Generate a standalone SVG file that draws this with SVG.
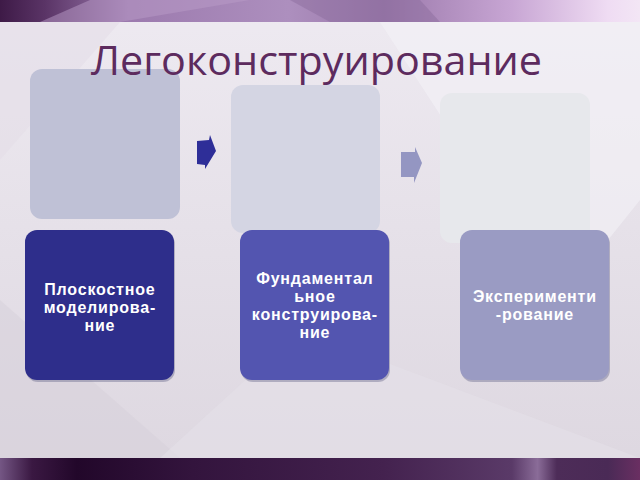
<svg xmlns="http://www.w3.org/2000/svg" width="640" height="480" viewBox="0 0 640 480">
  <defs>
    <linearGradient id="topBand" x1="0" y1="0" x2="1" y2="0">
      <stop offset="0" stop-color="#3e1a47"/>
      <stop offset="0.07" stop-color="#5a3466"/>
      <stop offset="0.2" stop-color="#9c7aae"/>
      <stop offset="0.45" stop-color="#ad8fbe"/>
      <stop offset="0.6" stop-color="#9a78aa"/>
      <stop offset="0.8" stop-color="#c8a6d4"/>
      <stop offset="0.95" stop-color="#efdcf3"/>
      <stop offset="1" stop-color="#f3e6f5"/>
    </linearGradient>
    <linearGradient id="botBand" x1="0" y1="0" x2="1" y2="0">
      <stop offset="0" stop-color="#745684"/>
      <stop offset="0.05" stop-color="#3a1842"/>
      <stop offset="0.12" stop-color="#22072a"/>
      <stop offset="0.3" stop-color="#33143d"/>
      <stop offset="0.6" stop-color="#44224f"/>
      <stop offset="0.8" stop-color="#5a3a68"/>
      <stop offset="0.84" stop-color="#8a6c98"/>
      <stop offset="0.87" stop-color="#4d2c58"/>
      <stop offset="0.95" stop-color="#4a2a56"/>
      <stop offset="1" stop-color="#6a2f62"/>
    </linearGradient>
    <linearGradient id="panel" x1="0" y1="0" x2="0" y2="1">
      <stop offset="0" stop-color="#eeeaf1"/>
      <stop offset="1" stop-color="#ddd7e0"/>
    </linearGradient>
    <style>
      .back { stroke: none; }
      .front { stroke: none; }
      .shadow { fill: #6e6e90; opacity: 0.45; }
      .lbl { font-family: "Liberation Sans", Arial, sans-serif; font-weight: bold; font-size: 16px; letter-spacing: 0.8px; fill: #ffffff; text-anchor: middle; }
      .title { font-family: "Open Sans", "Noto Sans", sans-serif; font-size: 40px; fill: #5d2b5e; }
    </style>
  </defs>

  <!-- background -->
  <rect x="0" y="0" width="640" height="480" fill="url(#panel)"/>
  <polygon points="0,22 120,22 0,160" fill="#e4dee8" opacity="0.6"/>
  <polygon points="380,22 640,22 640,200 560,300" fill="#f4f1f6" opacity="0.6"/>
  <polygon points="0,300 180,458 0,458" fill="#d6d0da" opacity="0.5"/>
  <polygon points="160,458 300,330 640,458" fill="#e6e1ea" opacity="0.5"/>
  <rect x="0" y="0" width="640" height="22" fill="url(#topBand)"/>
  <polygon points="40,22 90,0 250,0 120,22" fill="#b99cc8" opacity="0.5"/>
  <polygon points="290,0 420,0 440,22 330,22" fill="#8a6a9c" opacity="0.45"/>
  <rect x="0" y="458" width="640" height="22" fill="url(#botBand)"/>

  <!-- back boxes -->
  <g id="back1"><rect class="back" x="30" y="69" width="150" height="150" rx="12" fill="#bfc1d6"/></g>
  <g id="back2"><rect class="back" x="231" y="85" width="149" height="148" rx="12" fill="#d4d5e3"/></g>
  <g id="back3"><rect class="back" x="440" y="93" width="150" height="150" rx="12" fill="#e7e8ec"/></g>

  <!-- connectors (block arrows) -->
  <g id="connectors">
    <polygon points="197,141 209,140 210,135 216,151 205,169 205,165 197,164" fill="#2e2e98"/>
    <polygon points="401,152 415,152 415,147 422,163 414,183 414,177 401,177" fill="#9496c2"/>
  </g>

  <!-- front boxes -->
  <g id="node1">
    <rect class="shadow" x="26" y="232" width="149" height="150" rx="12"/>
    <rect class="front" x="25" y="230" width="149" height="150" rx="12" fill="#2e2e8b"/>
    <text class="lbl" x="99.9" y="295">Плоскостное</text>
    <text class="lbl" x="99.9" y="313">моделирова-</text>
    <text class="lbl" x="99.9" y="331">ние</text>
  </g>
  <g id="node2">
    <rect class="shadow" x="241" y="232" width="149" height="150" rx="12"/>
    <rect class="front" x="240" y="230" width="149" height="150" rx="12" fill="#5355b0"/>
    <text class="lbl" x="314.9" y="284">Фундаментал</text>
    <text class="lbl" x="314.9" y="302">ьное</text>
    <text class="lbl" x="314.9" y="320">конструирова-</text>
    <text class="lbl" x="314.9" y="338">ние</text>
  </g>
  <g id="node3">
    <rect class="shadow" x="461" y="232" width="149" height="150" rx="12"/>
    <rect class="front" x="460" y="230" width="149" height="150" rx="12" fill="#9a9bc3"/>
    <text class="lbl" x="534.9" y="302">Эксперименти</text>
    <text class="lbl" x="534.9" y="320">-рование</text>
  </g>

  <!-- title -->
  <g id="title">
    <text class="title" x="91" y="75" textLength="451" lengthAdjust="spacingAndGlyphs">Легоконструирование</text>
  </g>
</svg>
